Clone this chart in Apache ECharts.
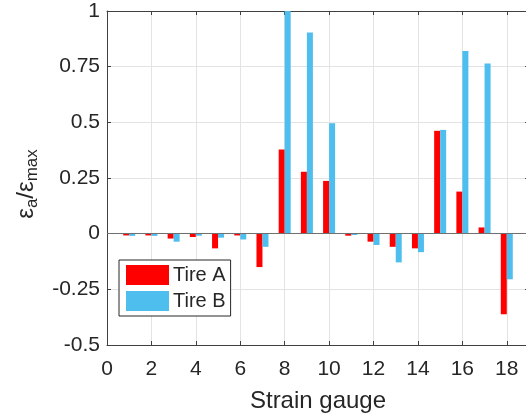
<!DOCTYPE html>
<html>
<head>
<meta charset="utf-8">
<script src="https://cdn.jsdelivr.net/npm/echarts@6/dist/echarts.min.js"></script>
<style>html,body{margin:0;padding:0;background:#fff}#c{width:526px;height:414px}</style>
</head>
<body>
<div id="c"></div>
<script>
const gauges = [1,2,3,4,5,6,7,8,9,10,11,12,13,14,15,16,17,18];
const tireA = [-0.008,-0.008,-0.022,-0.015,-0.066,-0.008,-0.15,0.378,0.278,0.237,-0.009,-0.036,-0.059,-0.066,0.462,0.189,0.028,-0.362];
const tireB = [-0.01,-0.01,-0.036,-0.009,-0.018,-0.026,-0.059,1.0,0.904,0.496,-0.006,-0.051,-0.129,-0.083,0.466,0.82,0.764,-0.205];
const seriesNames = ['Tire A','Tire B'];
const xTicks = {min:0, max:19, interval:2};
const yTicks = {min:-0.5, max:1, interval:0.25};

const FONT = 'Liberation Sans, Arial, Helvetica, sans-serif';
const TXT = '#262626';
const AX = '#404040';
const chart = echarts.init(document.getElementById('c'), null, {renderer:'canvas'});

function axisCommon(){
  return {
    axisLine:{show:true,onZero:false,lineStyle:{color:AX,width:1}},
    axisTick:{show:true,inside:true,length:4,lineStyle:{color:AX}},
  };
}

chart.setOption({
  animation:false,
  textStyle:{fontFamily:FONT,color:TXT},
  grid:{left:107,top:11,right:-3,bottom:69,containLabel:false,outerBoundsMode:'none'},
  legend:{
    orient:'vertical',left:119,top:260,
    data:seriesNames,
    icon:'rect',itemWidth:43,itemHeight:20,itemGap:6,
    padding:[5,5,5,7],
    borderColor:'#262626',borderWidth:1,backgroundColor:'#fff',
    textStyle:{fontFamily:FONT,fontSize:20,color:TXT,padding:[0,0,0,-1]}
  },
  xAxis:[
    Object.assign({type:'value',position:'bottom',min:xTicks.min,max:xTicks.max,interval:xTicks.interval,
      name:'Strain gauge',nameLocation:'middle',nameGap:44,
      nameTextStyle:{fontFamily:FONT,fontSize:24,color:TXT},
      axisLabel:{fontFamily:FONT,fontSize:21,color:TXT,margin:14,showMaxLabel:false},
      splitLine:{show:true,lineStyle:{color:'#e3e3e3',width:1}}},axisCommon()),
    Object.assign({type:'value',position:'top',min:xTicks.min,max:xTicks.max,interval:xTicks.interval,
      axisLabel:{show:false},splitLine:{show:false}},axisCommon())
  ],
  yAxis:[
    Object.assign({type:'value',position:'left',min:yTicks.min,max:yTicks.max,interval:yTicks.interval,
      name:'{e|ε}{s|a}{e|/ε}{s|max}',nameLocation:'middle',nameRotate:90,nameGap:62,
      nameTextStyle:{fontFamily:FONT,color:TXT,padding:[0,0,0,-12],
        rich:{e:{fontFamily:FONT,fontSize:24,lineHeight:30,color:TXT,verticalAlign:'middle'},
              s:{fontFamily:FONT,fontSize:17,lineHeight:16,color:TXT,verticalAlign:'bottom'}}},
      axisLabel:{fontFamily:FONT,fontSize:21,color:TXT,margin:7},
      splitLine:{show:true,lineStyle:{color:'#e3e3e3',width:1}}},axisCommon()),
    Object.assign({type:'value',position:'right',min:yTicks.min,max:yTicks.max,interval:yTicks.interval,
      axisLabel:{show:false},splitLine:{show:false}},axisCommon())
  ],
  series:[
    {name:seriesNames[0],type:'bar',xAxisIndex:0,yAxisIndex:0,barWidth:6,barGap:'0%',
     itemStyle:{color:'#ff0000'},
     data:gauges.map((g,i)=>[g,tireA[i]]),
     markLine:{silent:true,symbol:['none','none'],label:{show:false},
       lineStyle:{color:'#707070',width:1.2,type:'solid'},data:[{yAxis:0}]}},
    {name:seriesNames[1],type:'bar',xAxisIndex:0,yAxisIndex:0,barWidth:6,barGap:'0%',
     itemStyle:{color:'#4dbeee'},
     data:gauges.map((g,i)=>[g,tireB[i]])}
  ]
});
</script>
</body>
</html>
